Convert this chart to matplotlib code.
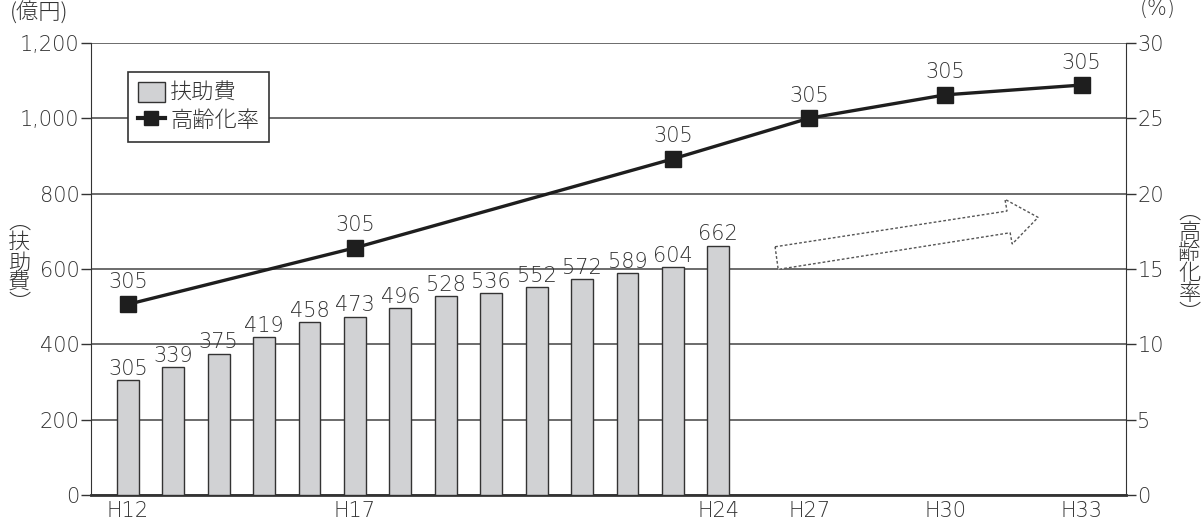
import numpy as np
import matplotlib.pyplot as plt
from matplotlib.patches import Polygon, Patch
from matplotlib.lines import Line2D

plt.rcParams['font.family'] = ['DejaVu Sans', 'Noto Sans CJK JP']
plt.rcParams['font.weight'] = 'light'
jp = ['Noto Sans CJK JP', 'DejaVu Sans']

# 扶助費 (億円) and 高齢化率 (%)
n_slots = 22
expense_pos = list(range(14))
expense = [305, 339, 375, 419, 458, 473, 496, 528, 536, 552, 572, 589, 604, 662]
rate_pos = [0, 5, 12, 15, 18, 21]
rate = [12.65, 16.4, 22.3, 25.0, 26.55, 27.2]
rate_labels = ['305', '305', '305', '305', '305', '305']
tick_pos = [0, 5, 13, 15, 18, 21]
tick_labels = ['H12', 'H17', 'H24', 'H27', 'H30', 'H33']

txt = '#333333'
fs = 15

fig = plt.figure(figsize=(12.04, 5.27), dpi=100)
ax = fig.add_axes([0.0753, 0.0607, 0.860, 0.858])
ax2 = ax.twinx()

ax.bar(expense_pos, expense, width=0.48, color='#d1d2d4', edgecolor='#333333',
       linewidth=1.0, zorder=3)
for x, v in zip(expense_pos, expense):
    ax.annotate(str(v), (x, v), xytext=(0, 1), textcoords='offset points',
                ha='center', va='bottom', fontsize=fs, color=txt, zorder=4)

ax.set_xlim(-0.82, n_slots - 0.02)
ax.set_ylim(0, 1200)
ax.set_yticks(np.arange(0, 1201, 200))
ax.set_yticklabels(['0', '200', '400', '600', '800', '1,000', '1,200'])
ax.grid(axis='y', color='#444444', linewidth=1.1, zorder=0)
ax.set_xticks(tick_pos)
ax.set_xticklabels(tick_labels)
ax.tick_params(axis='x', length=0, pad=4, labelsize=fs, labelcolor=txt)
ax.tick_params(axis='y', length=7, width=1, color='#333333', pad=1,
               labelsize=fs, labelcolor=txt)
for s in ['top', 'right']:
    ax.spines[s].set_visible(False)
ax.spines['left'].set_color('#333333')
ax.spines['bottom'].set_color('#333333')
ax.spines['bottom'].set_linewidth(2)

ax2.plot(rate_pos, rate, color='#1e1e1e', linewidth=2.4, marker='s',
         markersize=11, markerfacecolor='#1e1e1e', zorder=5)
for x, v, lab in zip(rate_pos, rate, rate_labels):
    ax2.annotate(lab, (x, v), xytext=(0, 9), textcoords='offset points',
                 ha='center', va='bottom', fontsize=fs, color=txt)
ax2.set_ylim(0, 30)
ax2.set_yticks(np.arange(0, 31, 5))
ax2.tick_params(axis='y', length=7, width=1, color='#333333', pad=1,
                labelsize=fs, labelcolor=txt)
for s in ['top', 'left', 'bottom']:
    ax2.spines[s].set_visible(False)
ax2.spines['right'].set_color('#333333')

# dashed outline arrow pointing up-right
arrow = Polygon([(0.661, 0.549), (0.885, 0.628), (0.883, 0.654), (0.915, 0.614),
                 (0.890, 0.555), (0.888, 0.580), (0.664, 0.499)],
                closed=True, transform=ax2.transAxes, facecolor='white',
                edgecolor='#555555', linestyle=(0, (2, 1.5)), linewidth=1.0,
                zorder=2)
ax2.add_patch(arrow)

handles = [Patch(facecolor='#d1d2d4', edgecolor='#333333', linewidth=1.0),
           Line2D([], [], color='#1e1e1e', linewidth=3, marker='s',
                  markersize=10)]
leg = ax2.legend(handles, ['扶助費', '高齢化率'], loc='upper left',
                 bbox_to_anchor=(0.036, 0.935), borderaxespad=0,
                 prop={'family': jp, 'size': 16, 'weight': 'light'},
                 fancybox=False, framealpha=1, edgecolor='#333333',
                 handlelength=1.2, handletextpad=0.25, labelspacing=0.2,
                 borderpad=0.45, handleheight=1.0)
leg.get_frame().set_linewidth(1.2)
for t in leg.get_texts():
    t.set_color(txt)

fig.text(0.008, 0.975, '(億円)', fontsize=16, family=jp, color=txt,
         ha='left', va='center')
fig.text(0.947, 0.982, '(%)', fontsize=fs, color=txt, ha='left', va='center')
fig.text(0.016, 0.5, '︵\n扶\n助\n費\n︶', fontsize=16, family=jp, color=txt,
         ha='center', va='center', linespacing=0.9)
fig.text(0.988, 0.5, '︵\n高\n齢\n化\n率\n︶', fontsize=16, family=jp,
         color=txt, ha='center', va='center', linespacing=0.9)

fig.savefig('out.png', dpi=100)
